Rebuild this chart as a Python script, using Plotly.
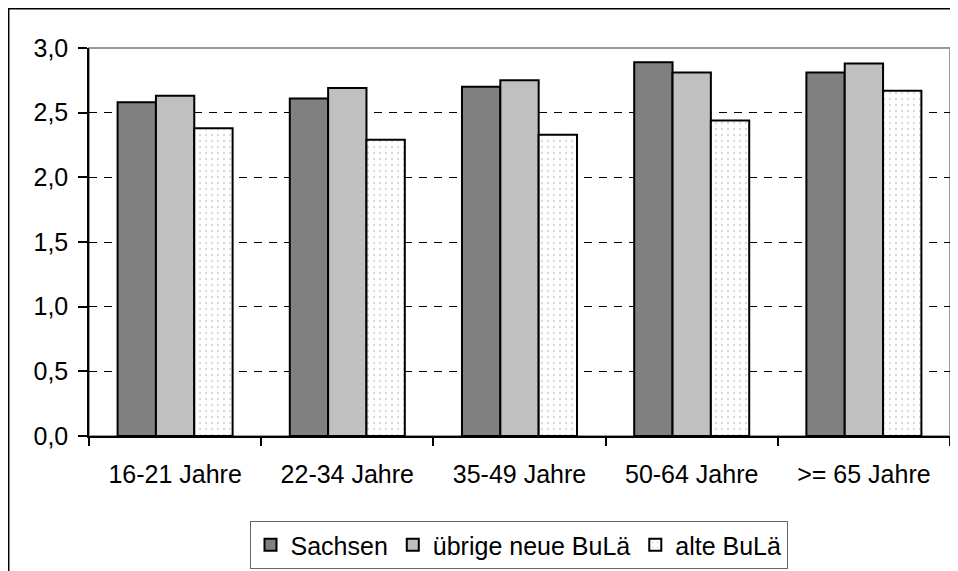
import plotly.graph_objects as go

categories = ["16-21 Jahre", "22-34 Jahre", "35-49 Jahre", "50-64 Jahre", ">= 65 Jahre"]
sachsen = [2.58, 2.61, 2.70, 2.89, 2.81]
uebrige_neue = [2.63, 2.69, 2.75, 2.81, 2.88]
alte = [2.38, 2.29, 2.33, 2.44, 2.67]
y_ticks = [0, 0.5, 1.0, 1.5, 2.0, 2.5, 3.0]

FONT = "Liberation Sans, Arial, sans-serif"
FS = 25
# page body has an 8px margin, so the figure is offset by 8px
OFF = 8
W, H = 958 - OFF, 571 - OFF
L, T = 89 - OFF, 48 - OFF
R = W - (950 - OFF)
B = H - (436 - OFF)
pw, ph = W - L - R, H - T - B

fig = go.Figure()
fig.add_trace(go.Bar(name="Sachsen", x=categories, y=sachsen,
                     marker=dict(color="#808080", line=dict(color="black", width=2))))
fig.add_trace(go.Bar(name="übrige neue BuLä", x=categories, y=uebrige_neue,
                     marker=dict(color="#c0c0c0", line=dict(color="black", width=2))))
fig.add_trace(go.Bar(name="alte BuLä", x=categories, y=alte,
                     marker=dict(color="white", line=dict(color="black", width=2),
                                 pattern=dict(shape=".", size=6, solidity=0.12,
                                              fgcolor="#b4b4b4", bgcolor="white",
                                              fillmode="overlay"))))

def px_x(x):  # page x -> paper
    return (x - OFF - L) / pw

def px_y(y):  # page y -> paper
    return (H - B - (y - OFF)) / ph

fig.update_layout(
    width=W, height=H,
    margin=dict(l=L, r=R, t=T, b=B, autoexpand=False),
    paper_bgcolor="white", plot_bgcolor="white",
    separators=",.",
    barmode="group", bargap=0.332, bargroupgap=0,
    font=dict(family=FONT, size=FS, color="black"),
    showlegend=True,
    legend=dict(orientation="h", xref="container", yref="container",
                x=(518.5 - OFF) / W, xanchor="center",
                y=1 - (521 - OFF) / H, yanchor="top",
                bordercolor="#666666", borderwidth=1, bgcolor="white",
                font=dict(family=FONT, size=FS, color="black"),
                traceorder="normal", itemwidth=30),
    shapes=[
        dict(type="rect", xref="paper", yref="paper", x0=0, x1=1, y0=0, y1=1,
             line=dict(color="#999999", width=2), layer="below"),
        dict(type="rect", xref="paper", yref="paper",
             x0=px_x(8.7), x1=px_x(975), y0=px_y(590), y1=px_y(8.7),
             line=dict(color="black", width=1.5), layer="below"),
    ],
)

fig.update_xaxes(
    type="category", showline=True, linecolor="black", linewidth=1.5,
    ticks="outside", tickson="boundaries", ticklen=8, tickcolor="black", tickwidth=1.5,
    showgrid=False, tickfont=dict(family=FONT, size=FS, color="black"),
    ticklabelstandoff=15, automargin=False,
)
fig.update_yaxes(
    range=[0, 3.0], tickvals=y_ticks, tickformat=".1f",
    showline=True, linecolor="black", linewidth=1.5,
    ticks="outside", ticklen=9, tickcolor="black", tickwidth=1.5,
    showgrid=True, gridcolor="black", gridwidth=1, griddash="8px,7px",
    zeroline=False, tickfont=dict(family=FONT, size=FS, color="black"),
    ticklabelstandoff=5, automargin=False,
)

fig.write_html("out.html")
